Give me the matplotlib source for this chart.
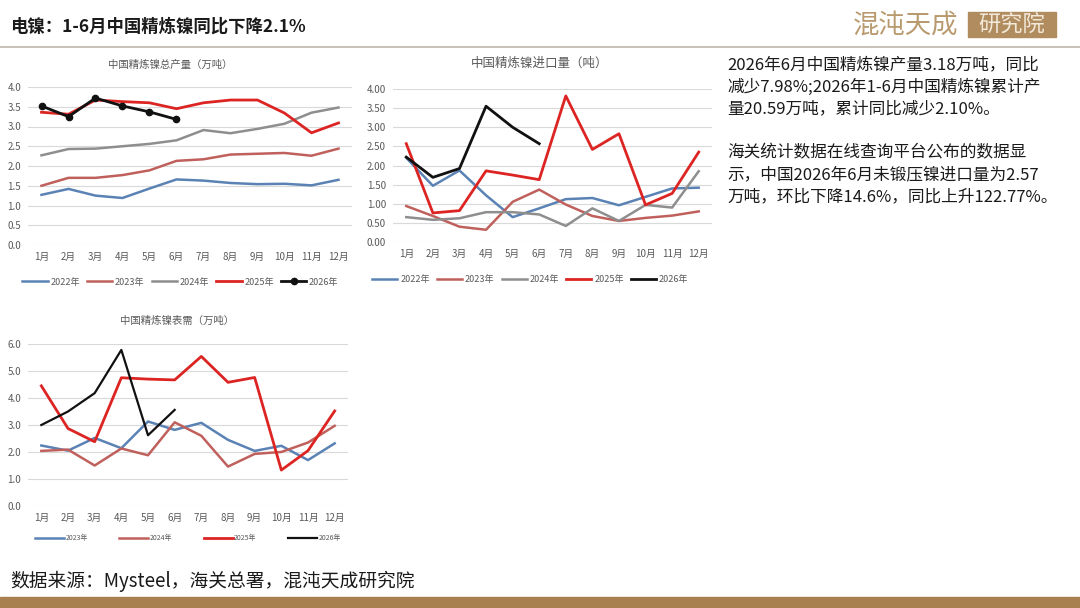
import matplotlib
matplotlib.use("Agg")
import matplotlib.pyplot as plt
from matplotlib.patches import Rectangle
from matplotlib.lines import Line2D

plt.rcParams['font.family'] = ['Noto Sans CJK SC', 'DejaVu Sans']

months = ['1月', '2月', '3月', '4月', '5月', '6月', '7月', '8月', '9月', '10月', '11月', '12月']

# Chart 1: 中国精炼镍总产量（万吨）
prod_2022 = [1.27, 1.42, 1.25, 1.19, 1.43, 1.66, 1.63, 1.57, 1.54, 1.55, 1.51, 1.65]
prod_2023 = [1.50, 1.70, 1.70, 1.77, 1.89, 2.13, 2.17, 2.29, 2.31, 2.33, 2.26, 2.44]
prod_2024 = [2.27, 2.43, 2.44, 2.50, 2.56, 2.65, 2.91, 2.83, 2.94, 3.07, 3.35, 3.48]
prod_2025 = [3.36, 3.31, 3.67, 3.63, 3.60, 3.45, 3.60, 3.67, 3.67, 3.34, 2.84, 3.09]
prod_2026 = [3.52, 3.25, 3.72, 3.52, 3.37, 3.18]

# Chart 2: 中国精炼镍进口量（吨）
imp_2022 = [2.20, 1.47, 1.87, 1.22, 0.65, 0.88, 1.12, 1.15, 0.96, 1.18, 1.40, 1.42]
imp_2023 = [0.94, 0.68, 0.40, 0.32, 1.05, 1.37, 0.98, 0.68, 0.55, 0.63, 0.69, 0.80]
imp_2024 = [0.65, 0.58, 0.62, 0.78, 0.78, 0.72, 0.42, 0.88, 0.55, 0.97, 0.90, 1.85]
imp_2025 = [2.57, 0.76, 0.82, 1.86, 1.75, 1.63, 3.82, 2.42, 2.83, 0.97, 1.27, 2.35]
imp_2026 = [2.22, 1.69, 1.92, 3.55, 3.00, 2.57]

# Chart 3: 中国精炼镍表需（万吨）
dem_2023 = [2.24, 2.05, 2.52, 2.14, 3.13, 2.82, 3.08, 2.45, 2.04, 2.23, 1.70, 2.32]
dem_2024 = [2.04, 2.09, 1.50, 2.13, 1.88, 3.10, 2.60, 1.46, 1.93, 2.00, 2.35, 2.97]
dem_2025 = [4.45, 2.87, 2.38, 4.75, 4.70, 4.67, 5.54, 4.58, 4.76, 1.33, 2.05, 3.52]
dem_2026 = [3.00, 3.50, 4.18, 5.78, 2.62, 3.56]

C_BLUE = '#5B82B4'
C_PINK = '#C0605C'
C_GRAY = '#8E8E8E'
C_RED = '#DC2423'
C_BLACK = '#111111'
TXT = '#595959'

W, H = 1080, 608
fig = plt.figure(figsize=(W / 100, H / 100), dpi=100)
fig.patch.set_facecolor('white')


def ax_at(l, t, r, b):
    return fig.add_axes([l / W, 1 - b / H, (r - l) / W, (b - t) / H])


def style(ax, ymax, step, fmt):
    ax.set_xlim(-0.5, 11.5)
    ax.set_ylim(0, ymax)
    ticks = [i * step for i in range(int(round(ymax / step)) + 1)]
    ax.set_yticks(ticks)
    ax.set_yticklabels([fmt.format(t) for t in ticks], fontsize=7, color=TXT)
    ax.set_xticks(range(12))
    ax.set_xticklabels(months, fontsize=7, color=TXT)
    for s in ax.spines.values():
        s.set_visible(False)
    ax.tick_params(length=0, pad=5)
    ax.grid(axis='y', color='#D9D9D9', linewidth=0.8)
    ax.set_axisbelow(True)


x12 = list(range(12))
x6 = list(range(6))

# ---------- Chart 1 ----------
ax1 = ax_at(28, 87, 352, 245)
style(ax1, 4.0, 0.5, '{:.1f}')
ax1.plot(x12, prod_2022, color=C_BLUE, lw=1.8, label='2022年')
ax1.plot(x12, prod_2023, color=C_PINK, lw=1.8, label='2023年')
ax1.plot(x12, prod_2024, color=C_GRAY, lw=1.8, label='2024年')
ax1.plot(x12, prod_2025, color=C_RED, lw=2.0, label='2025年')
ax1.plot(x6, prod_2026, color=C_BLACK, lw=2.0, marker='o', ms=4.5, label='2026年')
fig.text(170 / W, 1 - 65 / H, '中国精炼镍总产量（万吨）', fontsize=7.5, color=TXT,
         ha='center', va='center')
ax1.legend(loc='center', bbox_to_anchor=(0.47, -0.235), ncol=5, frameon=False,
           fontsize=6.5, handlelength=2.8, columnspacing=0.8, handletextpad=0.3,
           labelcolor=TXT)

# ---------- Chart 2 ----------
ax2 = ax_at(393, 89, 712, 242)
style(ax2, 4.0, 0.5, '{:.2f}')
ax2.plot(x12, imp_2022, color=C_BLUE, lw=1.8, label='2022年')
ax2.plot(x12, imp_2023, color=C_PINK, lw=1.8, label='2023年')
ax2.plot(x12, imp_2024, color=C_GRAY, lw=1.8, label='2024年')
ax2.plot(x12, imp_2025, color=C_RED, lw=2.0, label='2025年')
ax2.plot(x6, imp_2026, color=C_BLACK, lw=2.0, label='2026年')
fig.text(540 / W, 1 - 63 / H, '中国精炼镍进口量（吨）', fontsize=9, color=TXT,
         ha='center', va='center')
ax2.legend(loc='center', bbox_to_anchor=(0.43, -0.245), ncol=5, frameon=False,
           fontsize=6.5, handlelength=2.8, columnspacing=0.8, handletextpad=0.3,
           labelcolor=TXT)

# ---------- Chart 3 ----------
ax3 = ax_at(28, 344, 348, 506)
style(ax3, 6.0, 1.0, '{:.1f}')
ax3.plot(x12, dem_2023, color=C_BLUE, lw=1.8, label='2023年')
ax3.plot(x12, dem_2024, color=C_PINK, lw=1.8, label='2024年')
ax3.plot(x12, dem_2025, color=C_RED, lw=2.0, label='2025年')
ax3.plot(x6, dem_2026, color=C_BLACK, lw=1.6, label='2026年')
fig.text(177 / W, 1 - 321 / H, '中国精炼镍表需（万吨）', fontsize=7.5, color=TXT,
         ha='center', va='center')
ax3.legend(loc='center', bbox_to_anchor=(0.5, -0.2), ncol=4, frameon=False,
           fontsize=5, handlelength=4.2, columnspacing=4.5, handletextpad=0.2,
           labelcolor=TXT)

# ---------- Header ----------
fig.text(10 / W, 1 - 27 / H, '电镍：1-6月中国精炼镍同比下降2.1%', fontsize=12.5,
         color='#1a1a1a', ha='left', va='center', fontweight='bold')
fig.add_artist(Line2D([0, 1], [1 - 47 / H, 1 - 47 / H], color='#BFB6AC', lw=1.2))
fig.text(906 / W, 1 - 25 / H, '混沌天成', fontsize=19, color='#B99A6E',
         ha='center', va='center')
fig.add_artist(Rectangle((968 / W, 1 - 37 / H), 88 / W, 25 / H, color='#B08C5E',
                         transform=fig.transFigure))
fig.text(1012 / W, 1 - 25 / H, '研究院', fontsize=16, color='#F3E9DA',
         ha='center', va='center')

# ---------- Right text ----------
para1 = ['2026年6月中国精炼镍产量3.18万吨，同比',
         '减少7.98%;2026年1-6月中国精炼镍累计产',
         '量20.59万吨，累计同比减少2.10%。']
para2 = ['海关统计数据在线查询平台公布的数据显',
         '示，中国2026年6月未锻压镍进口量为2.57',
         '万吨，环比下降14.6%，同比上升122.77%。']
for i, line in enumerate(para1):
    fig.text(727 / W, 1 - (65 + i * 22) / H, line, fontsize=12, color='#1a1a1a',
             ha='left', va='center')
for i, line in enumerate(para2):
    fig.text(727 / W, 1 - (153 + i * 22) / H, line, fontsize=12, color='#1a1a1a',
             ha='left', va='center')

# ---------- Footer ----------
fig.text(10 / W, 1 - 581 / H, '数据来源：Mysteel，海关总署，混沌天成研究院', fontsize=13.5,
         color='#1a1a1a', ha='left', va='center')
fig.add_artist(Rectangle((0, 0), 1, 11 / H, color='#A8804F',
                         transform=fig.transFigure))

fig.savefig('out.png', dpi=100, facecolor='white')
